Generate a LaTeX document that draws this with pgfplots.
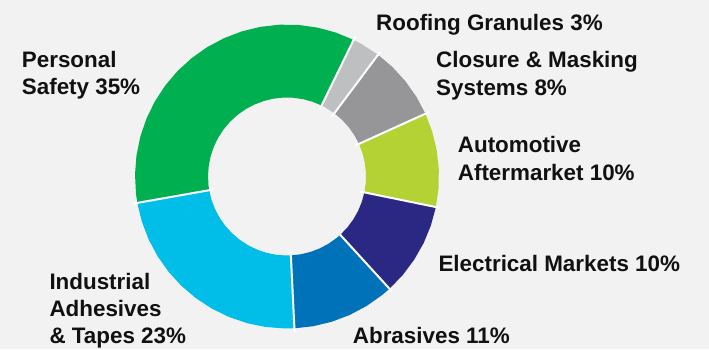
\documentclass[border=0pt]{standalone}
\usepackage{pgfplots}
\pgfplotsset{compat=1.18}
\usepgfplotslibrary{polar}
\usepackage{fontspec}
\setmainfont{Liberation Sans}
\definecolor{bg}{HTML}{F2F2F2}
\definecolor{cSafety}{RGB}{0,176,80}
\definecolor{cInd}{RGB}{0,190,232}
\definecolor{cAbr}{RGB}{0,114,186}
\definecolor{cElec}{RGB}{42,40,130}
\definecolor{cAuto}{RGB}{181,210,52}
\definecolor{cClos}{RGB}{150,150,152}
\definecolor{cRoof}{RGB}{190,191,193}
\definecolor{txt}{RGB}{17,17,17}
\begin{document}
\begin{tikzpicture}
\fill[bg] (0,0) rectangle (709pt,349pt);
\path[use as bounding box] (0,0) rectangle (709pt,349pt);
\begin{polaraxis}[at={(287pt,172.5pt)}, anchor=origin,
  width=304pt, height=304pt, scale only axis, hide axis,
  ymin=0, ymax=152, clip=false]
% Personal Safety 35%
\addplot[fill=cSafety, draw=none, mark=none] coordinates {
(64,152) (71.2,152) (78.4,152) (85.6,152) (92.8,152) (100,152) (107.2,152) (114.4,152) (121.6,152) (128.8,152) (136,152) (143.2,152) (150.4,152) (157.6,152) (164.8,152) (172,152) (179.2,152) (186.4,152) (190,152)
(190,79) (186.4,79) (179.2,79) (172,79) (164.8,79) (157.6,79) (150.4,79) (143.2,79) (136,79) (128.8,79) (121.6,79) (114.4,79) (107.2,79) (100,79) (92.8,79) (85.6,79) (78.4,79) (71.2,79) (64,79)};
% Industrial Adhesives & Tapes 23%
\addplot[fill=cInd, draw=none, mark=none] coordinates {
(190,152) (197.2,152) (204.4,152) (211.6,152) (218.8,152) (226,152) (233.2,152) (240.4,152) (247.6,152) (254.8,152) (262,152) (269.2,152) (272.8,152)
(272.8,79) (269.2,79) (262,79) (254.8,79) (247.6,79) (240.4,79) (233.2,79) (226,79) (218.8,79) (211.6,79) (204.4,79) (197.2,79) (190,79)};
% Abrasives 11%
\addplot[fill=cAbr, draw=none, mark=none] coordinates {
(272.8,152) (280,152) (287.2,152) (294.4,152) (301.6,152) (308.8,152) (312.4,152)
(312.4,79) (308.8,79) (301.6,79) (294.4,79) (287.2,79) (280,79) (272.8,79)};
% Electrical Markets 10%
\addplot[fill=cElec, draw=none, mark=none] coordinates {
(312.4,152) (319.6,152) (326.8,152) (334,152) (341.2,152) (348.4,152)
(348.4,79) (341.2,79) (334,79) (326.8,79) (319.6,79) (312.4,79)};
% Automotive Aftermarket 10%
\addplot[fill=cAuto, draw=none, mark=none] coordinates {
(348.4,152) (355.6,152) (362.8,152) (370,152) (377.2,152) (384.4,152)
(384.4,79) (377.2,79) (370,79) (362.8,79) (355.6,79) (348.4,79)};
% Closure & Masking Systems 8%
\addplot[fill=cClos, draw=none, mark=none] coordinates {
(24.4,152) (31.6,152) (38.8,152) (46,152) (53.2,152)
(53.2,79) (46,79) (38.8,79) (31.6,79) (24.4,79)};
% Roofing Granules 3%
\addplot[fill=cRoof, draw=none, mark=none] coordinates {
(53.2,152) (60.4,152) (64,152)
(64,79) (60.4,79) (53.2,79)};
% separators
\addplot[white, line width=2pt, mark=none] coordinates {(64,75) (64,156)};
\addplot[white, line width=2pt, mark=none] coordinates {(190,75) (190,156)};
\addplot[white, line width=2pt, mark=none] coordinates {(272.8,75) (272.8,156)};
\addplot[white, line width=2pt, mark=none] coordinates {(312.4,75) (312.4,156)};
\addplot[white, line width=2pt, mark=none] coordinates {(348.4,75) (348.4,156)};
\addplot[white, line width=2pt, mark=none] coordinates {(24.4,75) (24.4,156)};
\addplot[white, line width=2pt, mark=none] coordinates {(53.2,75) (53.2,156)};
\end{polaraxis}
\begin{scope}[every node/.style={anchor=base west, inner sep=0pt, text=txt, font=\bfseries\fontsize{22.4}{27}\selectfont}]
\node at (21.7pt,{349pt-67.3pt}) {Personal};
\node at (21.7pt,{349pt-94pt}) {Safety 35\%};
\node at (376pt,{349pt-30.7pt}) {Roofing Granules 3\%};
\node at (436pt,{349pt-67.7pt}) {Closure \& Masking};
\node at (436pt,{349pt-95pt}) {Systems 8\%};
\node at (457.7pt,{349pt-152.3pt}) {Automotive};
\node at (457.7pt,{349pt-180.7pt}) {Aftermarket 10\%};
\node at (438.3pt,{349pt-271.7pt}) {Electrical Markets 10\%};
\node at (49.3pt,{349pt-289pt}) {Industrial};
\node at (49.3pt,{349pt-316pt}) {Adhesives};
\node at (49.3pt,{349pt-343.5pt}) {\& Tapes 23\%};
\node at (352.7pt,{349pt-343.5pt}) {Abrasives 11\%};
\end{scope}
\end{tikzpicture}
\end{document}
